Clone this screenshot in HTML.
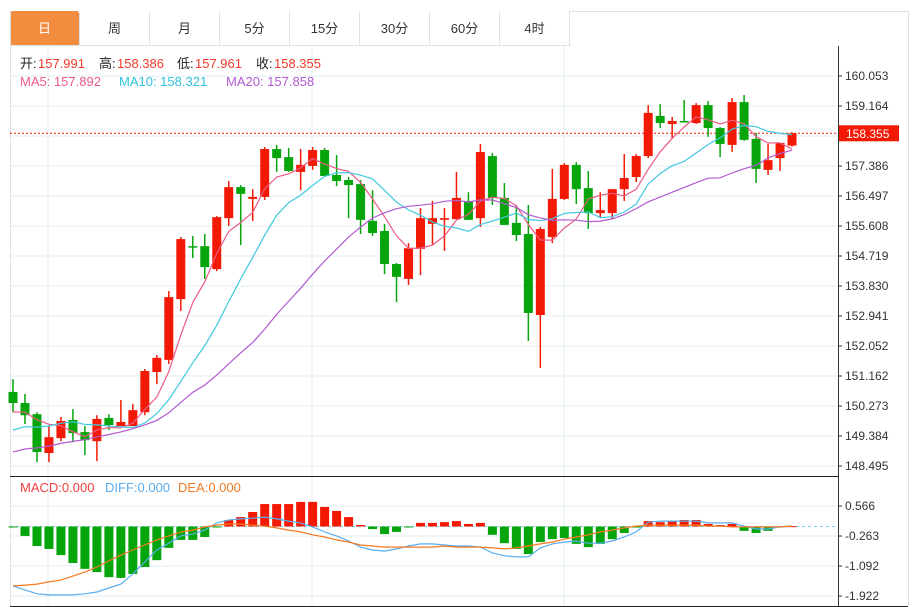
<!DOCTYPE html>
<html><head><meta charset="utf-8"><style>
body{margin:0;background:#fff;font-family:"Liberation Sans","Noto Sans CJK SC",sans-serif;}
#wrap{position:relative;width:920px;height:607px;overflow:hidden;}
.tab{position:absolute;top:11px;height:35px;width:69px;border-right:1px solid #dde2e8;border-bottom:1px solid #dde2e8;text-align:center;line-height:35px;font-size:13px;color:#333;box-sizing:border-box;}
</style></head><body>
<div id="wrap">
<div class="tab" style="left:10px;width:70px;background:#f28c3f;color:#fff;border-radius:3px 3px 0 0">日</div>
<div class="tab" style="left:80px;width:70px">周</div>
<div class="tab" style="left:150px;width:70px">月</div>
<div class="tab" style="left:220px;width:70px">5分</div>
<div class="tab" style="left:290px;width:70px">15分</div>
<div class="tab" style="left:360px;width:70px">30分</div>
<div class="tab" style="left:430px;width:70px">60分</div>
<div class="tab" style="left:500px;width:70px">4时</div>
<svg id="svg" width="920" height="607" style="position:absolute;left:0;top:0;pointer-events:none"></svg>
</div>
<script>
const ohlc=[
[150.69,151.07,150.09,150.36],[150.36,150.63,149.74,150.00],[150.03,150.09,148.61,148.91],[148.88,149.68,148.61,149.35],
[149.32,149.95,149.23,149.83],[149.86,150.18,149.20,149.47],[149.50,149.68,148.82,149.26],[149.23,150.00,148.64,149.89],
[149.92,150.03,149.56,149.71],[149.68,150.45,149.68,149.80],[149.68,150.33,149.68,150.15],[150.09,151.37,150.00,151.31],
[151.28,151.78,150.92,151.70],[151.64,153.68,151.52,153.50],[153.44,155.28,153.09,155.22],[155.01,155.31,154.66,154.98],
[155.01,155.37,154.04,154.39],[154.33,155.90,154.27,155.87],[155.84,156.94,155.61,156.76],[156.76,156.82,155.04,156.56],
[156.41,156.70,155.76,156.47],[156.47,157.95,156.38,157.89],[157.89,158.01,157.21,157.62],[157.65,157.92,157.21,157.24],
[157.21,157.89,156.67,157.42],[157.39,157.95,157.27,157.86],[157.86,157.92,157.09,157.09],[157.12,157.71,156.79,156.94],
[156.97,157.06,155.84,156.82],[156.85,156.97,155.37,155.79],[155.76,156.67,155.31,155.40],[155.46,155.67,154.18,154.48],
[154.48,154.51,153.35,154.10],[154.04,155.10,153.86,154.95],[154.93,156.14,154.15,155.84],[155.67,156.35,155.04,155.84],
[155.79,156.14,154.87,155.84],[155.81,157.21,155.81,156.44],[156.35,156.61,155.79,155.79],[155.84,158.04,155.58,157.80],
[157.68,157.77,156.23,156.44],[156.44,156.88,155.64,155.64],[155.70,156.23,155.16,155.34],[155.37,156.23,152.20,153.03],
[152.97,155.58,151.40,155.52],[155.28,157.30,155.10,156.41],[156.41,157.47,156.38,157.42],[157.42,157.50,156.26,156.70],
[156.73,157.24,155.52,155.99],[155.99,156.61,155.84,156.08],[155.99,156.61,155.81,156.70],[156.70,157.74,156.35,157.03],
[157.06,157.74,156.91,157.68],[157.68,159.19,157.62,158.96],[158.87,159.22,158.51,158.66],[158.63,158.84,158.19,158.72],
[158.72,159.34,158.69,158.69],[158.66,159.25,158.63,159.19],[159.19,159.31,158.25,158.51],[158.51,158.54,157.65,158.04],
[158.01,159.40,157.80,159.28],[159.28,159.49,158.13,158.16],[158.19,158.36,156.88,157.30],[157.27,158.04,157.12,157.56],
[157.62,158.07,157.24,158.07],[157.991,158.386,157.961,158.355]];
const historyCloses=[148.26,148.26,148.26,148.26,148.26,148.26,148.26,148.26,148.26,148.26,149.03,149.03,149.03,149.03,149.03,150.03,150.03,150.03,150.03];
const macdHist=[-0.02,-0.26,-0.54,-0.62,-0.79,-1.01,-1.17,-1.26,-1.40,-1.42,-1.31,-1.12,-0.93,-0.59,-0.37,-0.37,-0.29,-0.02,0.18,0.26,0.40,0.62,0.62,0.62,0.68,0.68,0.54,0.43,0.26,0.04,-0.07,-0.21,-0.15,-0.01,0.10,0.10,0.12,0.15,0.07,0.10,-0.23,-0.46,-0.62,-0.76,-0.43,-0.35,-0.32,-0.48,-0.57,-0.48,-0.35,-0.18,-0.01,0.15,0.12,0.15,0.18,0.18,0.07,0.04,0.07,-0.12,-0.18,-0.12,-0.01,0.01];
const diffVals=[-1.64,-1.75,-1.86,-1.89,-1.89,-1.89,-1.86,-1.81,-1.70,-1.59,-1.31,-0.98,-0.65,-0.46,-0.26,-0.21,-0.10,0.10,0.18,0.21,0.23,0.26,0.21,0.15,0.10,-0.01,-0.15,-0.26,-0.40,-0.57,-0.65,-0.68,-0.62,-0.54,-0.48,-0.48,-0.51,-0.54,-0.54,-0.57,-0.73,-0.81,-0.84,-0.84,-0.59,-0.48,-0.43,-0.40,-0.46,-0.46,-0.40,-0.29,-0.15,0.12,0.15,0.15,0.15,0.15,0.10,0.10,0.10,0.01,-0.07,-0.07,-0.01,0.01];
const deaVals=[-1.64,-1.62,-1.59,-1.53,-1.48,-1.37,-1.26,-1.12,-0.95,-0.79,-0.65,-0.51,-0.37,-0.26,-0.15,-0.10,-0.01,0.04,0.07,0.07,0.04,0.01,-0.04,-0.10,-0.15,-0.23,-0.29,-0.37,-0.43,-0.51,-0.54,-0.57,-0.57,-0.57,-0.57,-0.57,-0.54,-0.57,-0.57,-0.57,-0.59,-0.62,-0.59,-0.54,-0.48,-0.43,-0.35,-0.29,-0.23,-0.15,-0.10,-0.04,0.01,0.04,0.04,0.04,0.04,0.04,0.01,0.01,-0.01,-0.01,-0.01,-0.01,-0.01,0.01];
const priceTicks=["160.053","159.164","158.275","157.386","156.497","155.608","154.719","153.830","152.941","152.052","151.162","150.273","149.384","148.495"];
const macdTicks=["0.566","-0.263","-1.092","-1.922"];
const lastPrice=158.355;

const NS='http://www.w3.org/2000/svg';
const svg=document.getElementById('svg');
function el(tag,attrs,parent){const e=document.createElementNS(NS,tag);for(const k in attrs)e.setAttribute(k,attrs[k]);(parent||svg).appendChild(e);return e;}
const X0=13,DX=11.985;
function xAt(i){return X0+i*DX;}
const PMAX=160.053,PMIN=148.495,YTOP=76,YBOT=466;
function yP(p){return YTOP+(PMAX-p)*(YBOT-YTOP)/(PMAX-PMIN);}
const MZ=526.5,MS=36.2;
function yM(v){return MZ-v*MS;}
const RED='#f31a05',GREEN='#06a50b',GRID='#e3ecf3';

let g=el('g',{});


priceTicks.forEach(t=>{const y=yP(parseFloat(t));el('line',{x1:10,x2:838,y1:y,y2:y,stroke:GRID},g);});
macdTicks.forEach(t=>{const y=yM(parseFloat(t));el('line',{x1:10,x2:838,y1:y,y2:y,stroke:GRID},g);});
[48,312,564].forEach(x=>el('line',{x1:x,x2:x,y1:46,y2:606,stroke:GRID},g));
el('line',{x1:10.5,x2:10.5,y1:11,y2:606,stroke:'#dde2e8'});
el('line',{x1:570,x2:908,y1:11.5,y2:11.5,stroke:'#dde2e8'});
el('line',{x1:908.5,x2:908.5,y1:11,y2:606,stroke:'#dde2e8'});
el('line',{x1:838.5,x2:838.5,y1:46,y2:606,stroke:'#333'});
el('line',{x1:10,x2:838,y1:476.5,y2:476.5,stroke:'#222'});
el('line',{x1:10,x2:908,y1:606.5,y2:606.5,stroke:'#222'});

priceTicks.forEach(t=>{const y=yP(parseFloat(t));
 el('line',{x1:838,x2:842,y1:y,y2:y,stroke:'#333'});
 const tx=el('text',{x:845,y:y+4,'font-size':12,fill:'#333'});tx.textContent=t;
 
 });
macdTicks.forEach(t=>{const y=yM(parseFloat(t));
 el('line',{x1:838,x2:842,y1:y,y2:y,stroke:'#333'});
 const tx=el('text',{x:845,y:y+4,'font-size':12,fill:'#333'});tx.textContent=t;
 
 });

const yl=yP(lastPrice);
el('line',{x1:10,x2:838,y1:yl,y2:yl,stroke:RED,'stroke-dasharray':'2,2','stroke-width':1});
const lb=el('rect',{x:839,y:yl-8,width:60,height:16,fill:RED});


const lt=el('text',{x:846,y:yl+4.5,'font-size':12,fill:'#fff'});lt.textContent=lastPrice.toFixed(3);

ohlc.forEach((d,i)=>{const [o,h,l,c]=d;const col=c>=o?RED:GREEN;const x=xAt(i);
 const cg=el('g',{});
 
 
 el('line',{x1:x,x2:x,y1:yP(h),y2:yP(l),stroke:col,'stroke-width':1.5},cg);
 const top=yP(Math.max(o,c)),bot=yP(Math.min(o,c));
 el('rect',{x:x-4.5,y:top,width:9,height:Math.max(1.5,bot-top),fill:col},cg);});

const allC=historyCloses.concat(ohlc.map(d=>d[3]));const H=historyCloses.length;
function ma(n){const pts=[];for(let i=0;i<ohlc.length;i++){const k=H+i;const s=Math.max(0,k-n+1);let sum=0;for(let j=s;j<=k;j++)sum+=allC[j];pts.push(xAt(i).toFixed(1)+','+yP(sum/(k-s+1)).toFixed(1));}return pts.join(' ');}
[[5,'#ec5b86','ma5-line'],[10,'#41c8e0','ma10-line'],[20,'#b25ad0','ma20-line']].forEach(([n,c,nm])=>{
 const p=el('polyline',{points:ma(n),fill:'none',stroke:c,'stroke-width':1.2});
 
 });

el('line',{x1:10,x2:838,y1:MZ,y2:MZ,stroke:'#7fd0e8','stroke-dasharray':'3,3'});
macdHist.forEach((v,i)=>{const x=xAt(i);const y=yM(v);
 const r=el('rect',{x:x-4.5,y:Math.min(y,MZ),width:9,height:Math.max(1,Math.abs(y-MZ)),fill:v>=0?RED:GREEN});
 
 });
const dl=el('polyline',{points:diffVals.map((v,i)=>xAt(i).toFixed(1)+','+yM(v).toFixed(1)).join(' '),fill:'none',stroke:'#5aaef0','stroke-width':1.2});


const de=el('polyline',{points:deaVals.map((v,i)=>xAt(i).toFixed(1)+','+yM(v).toFixed(1)).join(' '),fill:'none',stroke:'#f57a20','stroke-width':1.2});



function txt(x,y,s,c,nm){const t=el('text',{x:x,y:y,'font-size':13,fill:c});t.textContent=s;
 
 return t;}
const info=[['开:',20,'#222'],['157.991',38,'#f23a2a'],['高:',99,'#222'],['158.386',117,'#f23a2a'],['低:',177,'#222'],['157.961',195,'#f23a2a'],['收:',256,'#222'],['158.355',274,'#f23a2a']];
info.forEach(([s,x,c])=>txt(x,68,s,c,'ohlc-legend'));
txt(20,86,'MA5: 157.892','#ec5b86','ma5-legend');
txt(119,86,'MA10: 158.321','#2fc3dc','ma10-legend');
txt(226,86,'MA20: 157.858','#b25ad0','ma20-legend');
txt(20,492,'MACD:0.000','#f04040','macd-legend');
txt(105,492,'DIFF:0.000','#5aaef0','diff-legend');
txt(178,492,'DEA:0.000','#f57a20','dea-legend');
</script>
</body></html>
